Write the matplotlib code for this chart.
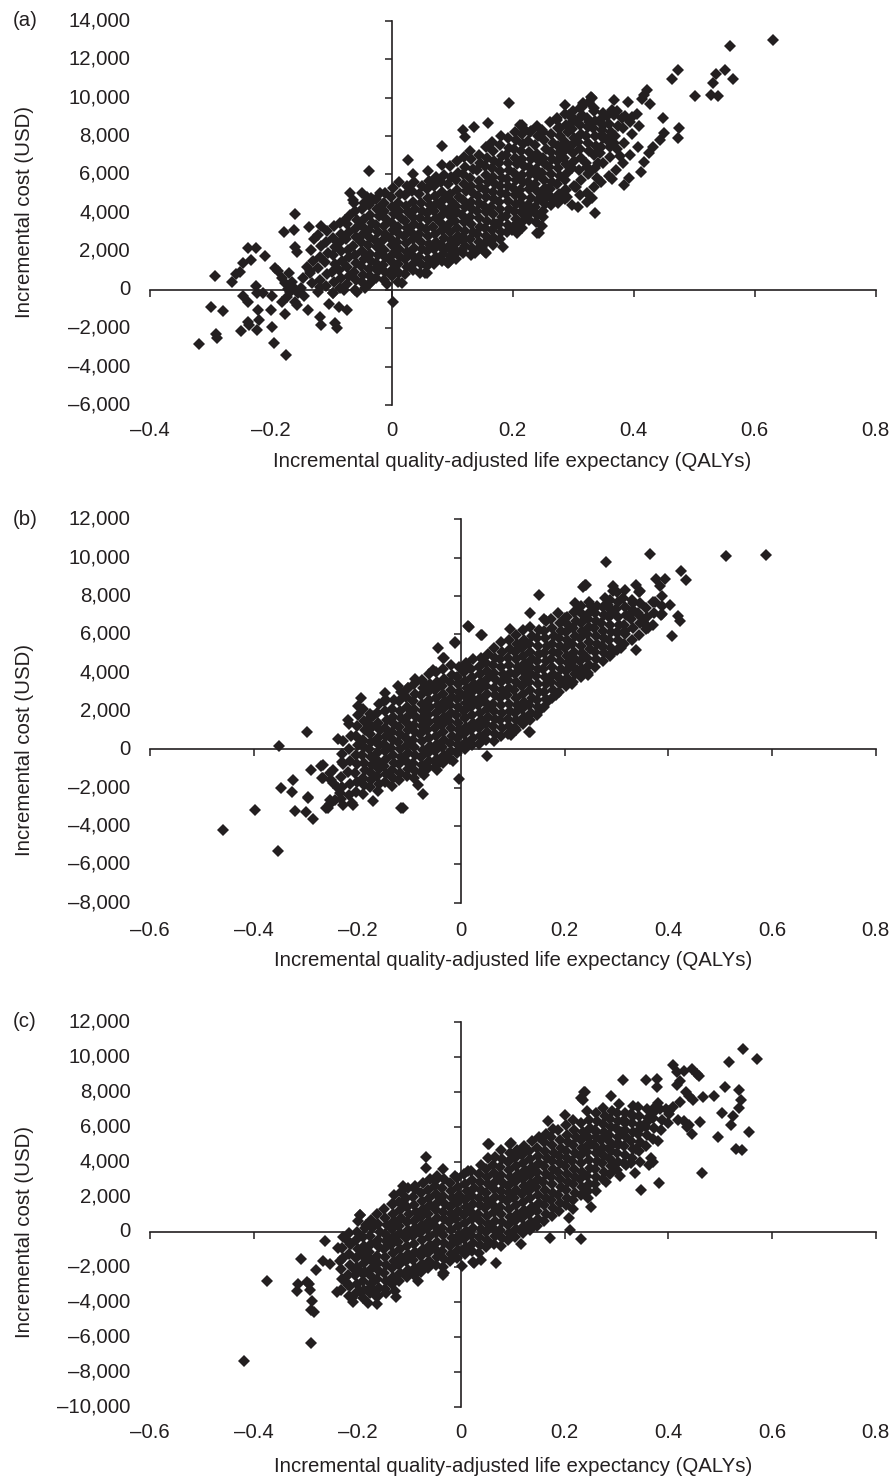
import numpy as np
import matplotlib
matplotlib.use("Agg")
import matplotlib.pyplot as plt

plt.rcParams['font.family'] = ['Liberation Sans', 'DejaVu Sans']

INK = '#231f20'
FS = 14.7
W, H = 894, 1482

XLABEL = 'Incremental quality-adjusted life expectancy (QALYs)'
YLABEL = 'Incremental cost (USD)'

# ---- panel (a): (incremental QALYs, incremental cost USD) ----
scatter_a = [
    (-0.318, -2830), (-0.298, -900), (-0.291, 710), (-0.279, -1110), (-0.290, -2310), (-0.288, -2520),
    (-0.264, 420), (-0.257, 820), (-0.251, 940), (-0.245, 1390), (-0.238, 2160), (-0.224, 2160), (-0.232, 1550), (-0.209, 1770),
    (-0.246, -330), (-0.237, -630), (-0.224, 190), (-0.222, -150), (-0.212, -190), (-0.220, -1060), (-0.219, -1580),
    (-0.238, -1670), (-0.235, -1840), (-0.249, -2140), (-0.222, -2100), (-0.198, -330), (-0.199, -1060), (-0.198, -1960),
    (-0.194, -2760), (-0.174, -3400), (-0.176, -1270), (-0.192, 1110), (-0.187, 950), (-0.181, 590), (-0.169, 850),
    (-0.176, 330), (-0.167, -100), (-0.181, -620), (-0.173, -360), (-0.159, -620), (-0.156, -800), (-0.154, -190),
    (-0.162, 160), (-0.177, 3020), (-0.159, 3930), (-0.161, 3110), (-0.137, 3250), (-0.159, 2240), (-0.156, 1980),
    (-0.144, -330), (-0.138, -1060), (-0.118, -1410), (-0.117, -1840), (-0.093, -1750), (-0.090, -2010), (-0.104, -750),
    (-0.086, -890), (-0.074, -1060), (-0.038, 6180), (-0.068, 5020), (-0.049, 5020), (-0.077, 3630),
    (0.002, -620), (-0.007, 300), (0.017, 330), (0.083, 7500), (0.056, 890), (0.092, 1460),
    (-0.165, 400), (-0.171, 20), (-0.150, 80), (-0.146, 600), (-0.140, 1200),
    (-0.134, 850), (-0.118, 160), (-0.096, -190), (-0.079, -20), (-0.057, -100), (-0.043, 70), (-0.035, 330), (-0.024, 1200),
    (-0.063, 4670), (-0.046, 4500), (-0.041, 4850), (-0.030, 4670), (-0.019, 5020), (-0.013, 4500),
    (0.028, 6760), (0.119, 8320), (0.122, 7970), (0.136, 8490), (0.160, 8670), (0.195, 9740), (0.213, 8580),
    (0.287, 9620), (0.317, 9710), (0.330, 10020),
    (0.058, 850), (0.093, 1460), (0.116, 2070), (0.138, 1900), (0.155, 1980), (0.185, 2210), (0.240, 2940),
    (0.249, 3330), (0.250, 3800), (0.337, 3980),
    (0.094, 1410), (0.157, 1930), (0.175, 3420), (0.199, 3110), (0.210, 3490), (0.243, 2970),
    (0.163, 2590), (0.149, 2240), (0.119, 2590), (0.102, 2160), (0.087, 2070),
    (0.221, 3980), (0.226, 4410), (0.213, 4500), (0.207, 2940),
    (0.305, 5370), (0.290, 4850), (0.273, 4710), (0.257, 4850), (0.260, 5280),
    (0.323, 4590), (0.309, 4330), (0.331, 4760), (0.273, 4760), (0.287, 5190), (0.304, 5370),
    (0.323, 6410), (0.326, 6060), (0.340, 5800), (0.345, 7110), (0.342, 6580),
    (0.348, 8060), (0.361, 7970), (0.367, 7630), (0.361, 7450),
    (0.315, 9530), (0.334, 9450), (0.364, 9360),
    (0.181, 8010), (0.215, 8580), (0.218, 8410), (0.229, 8230), (0.249, 8320), (0.273, 8840), (0.293, 9100),
    (0.298, 8750), (0.279, 8410),
    (0.315, 9100), (0.326, 8750), (0.345, 8840), (0.350, 8580), (0.367, 9100), (0.381, 8930), (0.397, 9010),
    (0.368, 9880), (0.391, 9790), (0.331, 10000), (0.316, 9620),
    (0.449, 8930), (0.476, 8410), (0.473, 7920), (0.450, 8150), (0.444, 7800), (0.433, 7450), (0.425, 7110),
    (0.417, 6670), (0.413, 6150), (0.392, 5800), (0.384, 5450), (0.365, 5770), (0.378, 6970),
    (0.422, 10400), (0.418, 10140), (0.414, 9920), (0.428, 9680),
    (0.473, 11450), (0.463, 10980), (0.537, 11240), (0.551, 11410), (0.531, 10780), (0.564, 10960),
    (0.502, 10060), (0.528, 10110), (0.540, 10090), (0.559, 12660), (0.630, 13010),
]

cloud_a = [
    (-0.131, 350), (-0.134, 950), (-0.129, 1480), (-0.133, 2080), (-0.128, 2620),
    (-0.121, -120), (-0.118, 520), (-0.122, 1130), (-0.119, 1690), (-0.117, 2280), (-0.121, 2860), (-0.116, 3310),
    (-0.108, 180), (-0.106, 810), (-0.110, 1420), (-0.105, 1930), (-0.109, 2480), (-0.107, 3080),
    (-0.097, -170), (-0.095, 380), (-0.098, 930), (-0.094, 1320), (-0.096, 1790), (-0.093, 2230), (-0.097, 2710), (-0.095, 3290),
    (-0.085, 90), (-0.083, 620), (-0.086, 1010), (-0.082, 1480), (-0.084, 2020), (-0.087, 2410), (-0.083, 2880), (-0.085, 3480),
    (-0.073, 280), (-0.071, 720), (-0.074, 1190), (-0.070, 1710), (-0.072, 2090), (-0.075, 2620), (-0.071, 3010), (-0.073, 3420), (-0.069, 3880),
    (-0.061, -20), (-0.059, 490), (-0.062, 920), (-0.058, 1380), (-0.060, 1820), (-0.063, 2290), (-0.059, 2720), (-0.061, 3180),
    (-0.057, 3610), (-0.060, 4090), (-0.062, 4520),
    (-0.049, 410), (-0.047, 790), (-0.050, 1220), (-0.046, 1580), (-0.048, 2010), (-0.051, 2480), (-0.047, 2920), (-0.049, 3310),
    (-0.045, 3690), (-0.048, 4210),
    (-0.037, 280), (-0.035, 710), (-0.038, 1090), (-0.034, 1520), (-0.036, 1880), (-0.039, 2310), (-0.035, 2690), (-0.037, 3120),
    (-0.033, 3480), (-0.036, 3910), (-0.038, 4420), (-0.034, 4790),
    (-0.025, 620), (-0.023, 980), (-0.026, 1410), (-0.022, 1790), (-0.024, 2220), (-0.027, 2580), (-0.023, 3020), (-0.025, 3390),
    (-0.021, 3820), (-0.024, 4180), (-0.026, 4710),
    (-0.013, 480), (-0.011, 920), (-0.014, 1290), (-0.010, 1720), (-0.012, 2080), (-0.015, 2520), (-0.011, 2890), (-0.013, 3320),
    (-0.009, 3680), (-0.012, 4120), (-0.014, 4480), (-0.010, 5020),
    (0.001, 710), (0.003, 1080), (-0.001, 1520), (0.002, 1880), (0.000, 2310), (-0.002, 2690), (0.002, 3120), (0.000, 3480),
    (0.004, 3920), (0.001, 4280), (-0.001, 4820), (0.003, 5290),
    (0.011, 420), (0.013, 880), (0.010, 1320), (0.014, 1690), (0.012, 2120), (0.009, 2480), (0.013, 2920), (0.011, 3280),
    (0.015, 3720), (0.012, 4080), (0.010, 4520), (0.014, 4980), (0.012, 5620),
    (0.023, 820), (0.025, 1180), (0.022, 1620), (0.026, 1980), (0.024, 2420), (0.021, 2780), (0.025, 3220), (0.023, 3580),
    (0.027, 4020), (0.024, 4380), (0.022, 4920), (0.026, 5380),
    (0.035, 1020), (0.037, 1380), (0.034, 1820), (0.038, 2180), (0.036, 2620), (0.033, 2980), (0.037, 3420), (0.035, 3780),
    (0.039, 4220), (0.036, 4580), (0.034, 5120), (0.038, 5580), (0.036, 6020),
    (0.047, 880), (0.049, 1320), (0.046, 1680), (0.050, 2120), (0.048, 2480), (0.045, 2920), (0.049, 3280), (0.047, 3720),
    (0.051, 4080), (0.048, 4520), (0.046, 4980), (0.050, 5420),
    (0.059, 1220), (0.061, 1580), (0.058, 2020), (0.062, 2380), (0.060, 2820), (0.057, 3180), (0.061, 3620), (0.059, 3980),
    (0.063, 4420), (0.060, 4780), (0.058, 5220), (0.062, 5680), (0.060, 6180),
    (0.071, 1320), (0.073, 1680), (0.070, 2120), (0.074, 2480), (0.072, 2920), (0.069, 3280), (0.073, 3720), (0.071, 4080),
    (0.075, 4520), (0.072, 4880), (0.070, 5420), (0.074, 5880),
    (0.083, 1520), (0.085, 1880), (0.082, 2320), (0.086, 2680), (0.084, 3120), (0.081, 3480), (0.085, 3920), (0.083, 4280),
    (0.087, 4720), (0.084, 5080), (0.082, 5620), (0.086, 5980), (0.084, 6480),
    (0.095, 1420), (0.097, 1780), (0.094, 2220), (0.098, 2580), (0.096, 3020), (0.093, 3380), (0.097, 3820), (0.095, 4180),
    (0.099, 4620), (0.096, 4980), (0.094, 5520), (0.098, 5880), (0.096, 6420),
    (0.107, 1620), (0.109, 1980), (0.106, 2420), (0.110, 2780), (0.108, 3220), (0.105, 3580), (0.109, 4020), (0.107, 4380),
    (0.111, 4820), (0.108, 5180), (0.106, 5720), (0.110, 6080), (0.108, 6720),
    (0.119, 1920), (0.121, 2280), (0.118, 2720), (0.122, 3080), (0.120, 3520), (0.117, 3880), (0.121, 4320), (0.119, 4680),
    (0.123, 5120), (0.120, 5480), (0.118, 6020), (0.122, 6380), (0.120, 6920),
    (0.131, 1820), (0.133, 2180), (0.130, 2620), (0.134, 2980), (0.132, 3420), (0.129, 3780), (0.133, 4220), (0.131, 4580),
    (0.135, 5020), (0.132, 5380), (0.130, 5820), (0.134, 6280), (0.132, 6820), (0.130, 7220),
    (0.143, 2120), (0.145, 2480), (0.142, 2920), (0.146, 3280), (0.144, 3720), (0.141, 4080), (0.145, 4520), (0.143, 4880),
    (0.147, 5320), (0.144, 5680), (0.142, 6220), (0.146, 6580), (0.144, 7020),
    (0.155, 2420), (0.157, 2780), (0.154, 3220), (0.158, 3580), (0.156, 4020), (0.153, 4380), (0.157, 4820), (0.155, 5180),
    (0.159, 5620), (0.156, 5980), (0.154, 6420), (0.158, 6880), (0.156, 7420),
    (0.167, 2320), (0.169, 2680), (0.166, 3120), (0.170, 3480), (0.168, 3920), (0.165, 4280), (0.169, 4720), (0.167, 5080),
    (0.171, 5520), (0.168, 5880), (0.166, 6320), (0.170, 6680), (0.168, 7220), (0.166, 7680),
    (0.179, 2620), (0.181, 2980), (0.178, 3420), (0.182, 3780), (0.180, 4220), (0.177, 4580), (0.181, 5020), (0.179, 5380),
    (0.183, 5820), (0.180, 6180), (0.178, 6620), (0.182, 6980), (0.180, 7520),
    (0.191, 3020), (0.193, 3380), (0.190, 3820), (0.194, 4180), (0.192, 4620), (0.189, 4980), (0.193, 5420), (0.191, 5780),
    (0.195, 6220), (0.192, 6580), (0.190, 7020), (0.194, 7380), (0.192, 7920),
    (0.203, 3320), (0.205, 3680), (0.202, 4120), (0.206, 4480), (0.204, 4920), (0.201, 5280), (0.205, 5720), (0.203, 6080),
    (0.207, 6520), (0.204, 6880), (0.202, 7320), (0.206, 7780), (0.204, 8220),
    (0.215, 3220), (0.217, 3580), (0.214, 4020), (0.218, 4380), (0.216, 4820), (0.213, 5180), (0.217, 5620), (0.215, 5980),
    (0.219, 6420), (0.216, 6780), (0.214, 7220), (0.218, 7580), (0.216, 8120),
    (0.227, 3620), (0.229, 3980), (0.226, 4420), (0.230, 4780), (0.228, 5220), (0.225, 5580), (0.229, 6020), (0.227, 6380),
    (0.231, 6820), (0.228, 7180), (0.226, 7720), (0.230, 8280),
    (0.239, 3520), (0.241, 3880), (0.238, 4320), (0.242, 4680), (0.240, 5120), (0.237, 5480), (0.241, 5920), (0.239, 6280),
    (0.243, 6720), (0.240, 7080), (0.238, 7520), (0.242, 7980), (0.240, 8520),
    (0.251, 4120), (0.253, 4480), (0.250, 4920), (0.254, 5280), (0.252, 5720), (0.249, 6080), (0.253, 6520), (0.251, 6880),
    (0.255, 7320), (0.252, 7780), (0.250, 8220),
    (0.263, 4420), (0.265, 4780), (0.262, 5220), (0.266, 5580), (0.264, 6020), (0.261, 6380), (0.265, 6820), (0.263, 7180),
    (0.267, 7620), (0.264, 8080), (0.262, 8720),
    (0.275, 4520), (0.277, 4980), (0.274, 5480), (0.278, 5920), (0.276, 6320), (0.273, 6680), (0.277, 7120), (0.275, 7480),
    (0.279, 7980), (0.276, 8420), (0.274, 8920),
    (0.287, 4720), (0.289, 5180), (0.286, 5720), (0.290, 6080), (0.288, 6520), (0.285, 6880), (0.289, 7320), (0.287, 7680),
    (0.291, 8220), (0.288, 8580), (0.286, 9120),
    (0.299, 4420), (0.301, 5420), (0.298, 6320), (0.302, 6680), (0.300, 7120), (0.297, 7480), (0.301, 7920), (0.299, 8380),
    (0.303, 8820), (0.300, 9280),
    (0.311, 4920), (0.313, 5720), (0.310, 6220), (0.314, 6880), (0.312, 7320), (0.309, 7680), (0.313, 8120), (0.311, 8580),
    (0.315, 9020), (0.312, 9480),
    (0.323, 5020), (0.325, 6020), (0.322, 6620), (0.326, 7220), (0.324, 7620), (0.321, 8020), (0.325, 8480), (0.323, 8920),
    (0.327, 9780),
    (0.335, 5320), (0.337, 6320), (0.334, 7020), (0.338, 7480), (0.336, 8020), (0.333, 8420), (0.337, 8780), (0.335, 9320),
    (0.347, 5620), (0.349, 6620), (0.346, 7420), (0.350, 7880), (0.348, 8320), (0.345, 8720), (0.349, 9220),
    (0.359, 5920), (0.361, 6920), (0.358, 7720), (0.362, 8220), (0.360, 8620), (0.357, 9020),
    (0.371, 6220), (0.373, 7320), (0.370, 8020), (0.374, 8520), (0.372, 9320),
    (0.383, 6620), (0.385, 7620), (0.382, 8420), (0.386, 9020),
    (0.395, 7020), (0.397, 8120), (0.394, 8720),
    (0.407, 7420), (0.409, 8520), (0.406, 9120),
]

# ---- panel (b) ----
scatter_b = [
    (-0.460, -4230), (-0.398, -3190), (-0.353, -5280), (-0.351, 190), (-0.298, 880),
    (-0.348, -2020), (-0.325, -1620), (-0.326, -2250), (-0.321, -3240), (-0.300, -3290), (-0.286, -3640), (-0.295, -2510),
    (-0.289, -1100), (-0.270, -860), (-0.267, -1500), (-0.252, -1240), (-0.247, -1760), (-0.237, -2020), (-0.234, -2280),
    (-0.244, -2630), (-0.253, -2840), (-0.257, -3070),
    (-0.228, -2890), (-0.211, -2800), (-0.237, 550), (-0.218, 1550), (-0.199, 2240), (-0.192, 2680), (-0.176, 1860),
    (-0.179, 1370), (-0.170, 1720),
    (-0.147, 2940), (-0.144, 2550), (-0.122, 3320), (-0.112, -3070), (-0.074, -2320), (-0.083, -1850), (-0.071, -1330),
    (-0.044, 5290), (-0.035, 4770), (-0.054, 4150), (-0.089, 3670), (-0.074, 3490), (-0.170, -2670),
    (-0.267, -800), (-0.269, -1500), (-0.247, -1070), (-0.250, -1590), (-0.229, -680), (-0.295, -2540), (-0.253, -2630),
    (-0.208, -2890), (-0.260, -3060),
    (-0.115, -3060), (-0.047, -1070), (-0.051, -630), (-0.015, -630), (-0.003, -1530), (-0.102, 3200), (-0.012, 5550),
    (0.014, 6420), (0.041, 5980), (0.051, -370), (0.150, 8030), (0.240, 8590), (0.134, 7110), (0.161, 6800),
    (0.094, 6280), (0.133, 930), (0.097, 760),
    (0.364, 10190), (0.511, 10110), (0.588, 10120), (0.279, 9780), (0.425, 9320), (0.435, 8820),
    (0.377, 8890), (0.393, 8890), (0.383, 8500), (0.338, 8590), (0.345, 8240), (0.316, 8290), (0.294, 8500), (0.293, 8240),
    (0.242, 8560), (0.235, 8470),
    (0.388, 7980), (0.374, 7670), (0.404, 7550), (0.387, 7080), (0.419, 6940), (0.422, 6680), (0.407, 5890),
    (0.338, 5200), (0.309, 5290), (0.293, 5080), (0.274, 5340),
    (0.358, 6420), (0.361, 6330), (0.351, 6680), (0.345, 6940), (0.329, 7110), (0.332, 7640),
    (0.107, 1020), (0.131, 880), (0.118, 1460), (0.152, 2070), (0.168, 2500), (0.184, 2850),
    (0.203, 3600), (0.215, 3410), (0.245, 3890), (0.223, 4160),
    (0.015, 6360), (0.039, 5980), (-0.011, 5600), (-0.033, 4770), (0.200, 6850), (0.219, 7640), (0.223, 7290),
    (0.251, 7460), (0.284, 7550), (0.290, 7110), (0.316, 6150), (0.300, 6070),
]

cloud_b = [
    (-0.231, -2610), (-0.229, -1990), (-0.232, -1420), (-0.228, -780), (-0.230, -220), (-0.227, 410),
    (-0.217, -2380), (-0.215, -1820), (-0.218, -1190), (-0.214, -620), (-0.216, 20), (-0.213, 690), (-0.217, 1310),
    (-0.203, -2210), (-0.201, -1690), (-0.204, -1220), (-0.200, -780), (-0.202, -320), (-0.199, 210), (-0.203, 690),
    (-0.201, 1220), (-0.198, 1790),
    (-0.189, -2310), (-0.187, -1880), (-0.190, -1520), (-0.186, -1090), (-0.188, -710), (-0.191, -290), (-0.187, 110),
    (-0.189, 490), (-0.185, 1010), (-0.188, 1490), (-0.190, 2090),
    (-0.175, -1990), (-0.173, -1610), (-0.176, -1190), (-0.172, -810), (-0.174, -390), (-0.177, 10), (-0.173, 390),
    (-0.175, 810), (-0.171, 1190), (-0.174, 1710),
    (-0.161, -2190), (-0.159, -1810), (-0.162, -1390), (-0.158, -1010), (-0.160, -590), (-0.163, -210), (-0.159, 210),
    (-0.161, 590), (-0.157, 1010), (-0.160, 1390), (-0.162, 1910), (-0.158, 2390),
    (-0.147, -1690), (-0.145, -1310), (-0.148, -890), (-0.144, -510), (-0.146, -90), (-0.149, 290), (-0.145, 710),
    (-0.147, 1090), (-0.143, 1510), (-0.146, 1990), (-0.148, 2510),
    (-0.133, -1890), (-0.131, -1510), (-0.134, -1090), (-0.130, -710), (-0.132, -290), (-0.135, 90), (-0.131, 510),
    (-0.133, 890), (-0.129, 1310), (-0.132, 1690), (-0.134, 2110), (-0.130, 2590),
    (-0.119, -1590), (-0.117, -1210), (-0.120, -790), (-0.116, -410), (-0.118, 10), (-0.121, 390), (-0.117, 810),
    (-0.119, 1190), (-0.115, 1610), (-0.118, 1990), (-0.120, 2510), (-0.116, 2990),
    (-0.105, -1390), (-0.103, -1010), (-0.106, -590), (-0.102, -210), (-0.104, 210), (-0.107, 590), (-0.103, 1010),
    (-0.105, 1390), (-0.101, 1810), (-0.104, 2190), (-0.106, 2710), (-0.102, 3190),
    (-0.091, -1490), (-0.089, -1110), (-0.092, -690), (-0.088, -310), (-0.090, 110), (-0.093, 490), (-0.089, 910),
    (-0.091, 1290), (-0.087, 1710), (-0.090, 2090), (-0.092, 2510), (-0.088, 2890), (-0.090, 3410),
    (-0.077, -1190), (-0.075, -810), (-0.078, -390), (-0.074, -10), (-0.076, 410), (-0.079, 790), (-0.075, 1210),
    (-0.077, 1590), (-0.073, 2010), (-0.076, 2390), (-0.078, 2810), (-0.074, 3190), (-0.076, 3610),
    (-0.063, -990), (-0.061, -610), (-0.064, -190), (-0.060, 190), (-0.062, 610), (-0.065, 990), (-0.061, 1410),
    (-0.063, 1790), (-0.059, 2210), (-0.062, 2590), (-0.064, 3010), (-0.060, 3390), (-0.062, 3910),
    (-0.049, -890), (-0.047, -510), (-0.050, -90), (-0.046, 290), (-0.048, 710), (-0.051, 1090), (-0.047, 1510),
    (-0.049, 1890), (-0.045, 2310), (-0.048, 2690), (-0.050, 3110), (-0.046, 3490), (-0.048, 4010),
    (-0.035, -690), (-0.033, -310), (-0.036, 110), (-0.032, 490), (-0.034, 910), (-0.037, 1290), (-0.033, 1710),
    (-0.035, 2090), (-0.031, 2510), (-0.034, 2890), (-0.036, 3310), (-0.032, 3690), (-0.034, 4210),
    (-0.021, -490), (-0.019, -90), (-0.022, 310), (-0.018, 690), (-0.020, 1110), (-0.023, 1490), (-0.019, 1910),
    (-0.021, 2290), (-0.017, 2710), (-0.020, 3090), (-0.022, 3510), (-0.018, 3890), (-0.020, 4410),
    (-0.007, -190), (-0.005, 210), (-0.008, 590), (-0.004, 1010), (-0.006, 1390), (-0.009, 1810), (-0.005, 2190),
    (-0.007, 2610), (-0.003, 2990), (-0.006, 3410), (-0.008, 3790), (-0.004, 4310),
    (0.007, 10), (0.009, 390), (0.006, 810), (0.010, 1190), (0.008, 1610), (0.005, 1990), (0.009, 2410), (0.007, 2790),
    (0.011, 3210), (0.008, 3590), (0.006, 4010), (0.010, 4490),
    (0.021, 210), (0.023, 590), (0.020, 1010), (0.024, 1390), (0.022, 1810), (0.019, 2190), (0.023, 2610), (0.021, 2990),
    (0.025, 3410), (0.022, 3790), (0.020, 4210), (0.024, 4690),
    (0.035, 290), (0.037, 710), (0.034, 1090), (0.038, 1510), (0.036, 1890), (0.033, 2310), (0.037, 2690), (0.035, 3110),
    (0.039, 3490), (0.036, 3910), (0.034, 4290), (0.038, 4790),
    (0.049, 510), (0.051, 890), (0.048, 1310), (0.052, 1690), (0.050, 2110), (0.047, 2490), (0.051, 2910), (0.049, 3290),
    (0.053, 3710), (0.050, 4090), (0.048, 4510), (0.052, 4990),
    (0.063, 410), (0.065, 790), (0.062, 1210), (0.066, 1590), (0.064, 2010), (0.061, 2390), (0.065, 2810), (0.063, 3190),
    (0.067, 3610), (0.064, 3990), (0.062, 4410), (0.066, 4790), (0.064, 5310),
    (0.077, 710), (0.079, 1090), (0.076, 1510), (0.080, 1890), (0.078, 2310), (0.075, 2690), (0.079, 3110), (0.077, 3490),
    (0.081, 3910), (0.078, 4290), (0.076, 4710), (0.080, 5090), (0.078, 5610),
    (0.091, 790), (0.093, 1210), (0.090, 1590), (0.094, 2010), (0.092, 2390), (0.089, 2810), (0.093, 3190), (0.091, 3610),
    (0.095, 3990), (0.092, 4410), (0.090, 4790), (0.094, 5210), (0.092, 5690),
    (0.105, 1090), (0.107, 1510), (0.104, 1890), (0.108, 2310), (0.106, 2690), (0.103, 3110), (0.107, 3490), (0.105, 3910),
    (0.109, 4290), (0.106, 4710), (0.104, 5090), (0.108, 5510), (0.106, 5990),
    (0.119, 1310), (0.121, 1690), (0.118, 2110), (0.122, 2490), (0.120, 2910), (0.117, 3290), (0.121, 3710), (0.119, 4090),
    (0.123, 4510), (0.120, 4890), (0.118, 5310), (0.122, 5690), (0.120, 6210),
    (0.133, 1510), (0.135, 1890), (0.132, 2310), (0.136, 2690), (0.134, 3110), (0.131, 3490), (0.135, 3910), (0.133, 4290),
    (0.137, 4710), (0.134, 5090), (0.132, 5510), (0.136, 5890), (0.134, 6390),
    (0.147, 1790), (0.149, 2210), (0.146, 2590), (0.150, 3010), (0.148, 3390), (0.145, 3810), (0.149, 4190), (0.147, 4610),
    (0.151, 4990), (0.148, 5410), (0.146, 5790), (0.150, 6210),
    (0.161, 2190), (0.163, 2610), (0.160, 2990), (0.164, 3410), (0.162, 3790), (0.159, 4210), (0.163, 4590), (0.161, 5010),
    (0.165, 5390), (0.162, 5810), (0.160, 6190), (0.164, 6690),
    (0.175, 2690), (0.177, 3110), (0.174, 3490), (0.178, 3910), (0.176, 4290), (0.173, 4710), (0.177, 5090), (0.175, 5510),
    (0.179, 5890), (0.176, 6310), (0.174, 6790),
    (0.189, 2990), (0.191, 3410), (0.188, 3790), (0.192, 4210), (0.190, 4590), (0.187, 5010), (0.191, 5390), (0.189, 5810),
    (0.193, 6190), (0.190, 6610), (0.188, 7090),
    (0.203, 3290), (0.205, 3710), (0.202, 4090), (0.206, 4510), (0.204, 4890), (0.201, 5310), (0.205, 5690), (0.203, 6110),
    (0.207, 6490), (0.204, 6910),
    (0.217, 3490), (0.219, 3910), (0.216, 4290), (0.220, 4710), (0.218, 5090), (0.215, 5510), (0.219, 5890), (0.217, 6310),
    (0.221, 6690), (0.218, 7190),
    (0.231, 3790), (0.233, 4210), (0.230, 4590), (0.234, 5010), (0.232, 5390), (0.229, 5810), (0.233, 6190), (0.231, 6610),
    (0.235, 6990), (0.232, 7490),
    (0.245, 3990), (0.247, 4410), (0.244, 4790), (0.248, 5210), (0.246, 5590), (0.243, 6010), (0.247, 6390), (0.245, 6810),
    (0.249, 7190), (0.246, 7690),
    (0.259, 4290), (0.261, 4710), (0.258, 5090), (0.262, 5510), (0.260, 5890), (0.257, 6310), (0.261, 6690), (0.259, 7110),
    (0.263, 7490),
    (0.273, 4590), (0.275, 5010), (0.272, 5390), (0.276, 5810), (0.274, 6190), (0.271, 6610), (0.275, 6990), (0.273, 7410),
    (0.277, 7890),
    (0.287, 4890), (0.289, 5310), (0.286, 5690), (0.290, 6110), (0.288, 6490), (0.285, 6910), (0.289, 7290), (0.287, 7790),
    (0.301, 5190), (0.303, 5710), (0.300, 6110), (0.304, 6510), (0.302, 6890), (0.299, 7310), (0.303, 7690), (0.301, 8190),
    (0.315, 5490), (0.317, 6010), (0.314, 6510), (0.318, 6990), (0.316, 7410), (0.313, 7890),
    (0.329, 5690), (0.331, 6310), (0.328, 6810), (0.332, 7290), (0.330, 7810),
    (0.343, 5990), (0.345, 6610), (0.342, 7110), (0.346, 7610), (0.344, 8190),
    (0.357, 6290), (0.359, 6910), (0.356, 7390),
    (0.371, 6490), (0.373, 7110), (0.370, 7690),
    (0.385, 6990), (0.387, 7490),
]

# ---- panel (c) ----
scatter_c = [
    (-0.419, -7390), (-0.375, -2800), (-0.289, -6350), (-0.289, -4470), (-0.284, -4580), (-0.287, -3950), (-0.292, -3320),
    (-0.293, -3010), (-0.298, -2900), (-0.314, -3010), (-0.317, -3360), (-0.308, -1550),
    (-0.280, -2170), (-0.263, -510), (-0.267, -1650), (-0.253, -1860), (-0.240, -3430), (-0.234, -1650), (-0.237, -920),
    (-0.221, -400), (-0.215, -710), (-0.224, -2800), (-0.218, -3070), (-0.208, -3990), (-0.211, -3780),
    (-0.195, -3360), (-0.205, -2170), (-0.195, 960), (-0.184, 390), (-0.182, -1550), (-0.192, -2280), (-0.176, -3220),
    (-0.166, -3360), (-0.179, -4050), (-0.163, -4110), (-0.165, -3640),
    (-0.125, -3740), (-0.144, -3490), (-0.128, -3360), (-0.083, -2800), (-0.035, -2490),
    (-0.068, 4250), (-0.068, 3630), (-0.035, 3610), (-0.051, 2900), (-0.112, 2620), (-0.089, 2420), (-0.131, 1580),
    (-0.112, 1690),
    (-0.194, 950), (0.052, 5010), (0.097, 5050), (0.168, 6330), (0.200, 6670), (0.239, 7960), (0.232, 7620),
    (0.172, -380), (0.232, -430), (0.210, 100), (0.068, -1810), (0.026, -1810), (0.039, -1620), (-0.035, -2380),
    (0.544, 10420), (0.571, 9870), (0.517, 9670), (0.510, 8270), (0.536, 8120), (0.541, 7540), (0.536, 7060),
    (0.525, 6600), (0.520, 6120), (0.555, 5670), (0.530, 4730), (0.543, 4670), (0.496, 5420), (0.504, 6810),
    (0.489, 7750), (0.465, 3370),
    (0.409, 9520), (0.417, 9100), (0.431, 9210), (0.446, 9270), (0.455, 9040), (0.460, 8890), (0.423, 8620),
    (0.417, 8410), (0.435, 7960), (0.440, 7750), (0.422, 7440), (0.447, 7540), (0.467, 7710),
    (0.462, 6250), (0.436, 5980), (0.446, 5560), (0.440, 6080), (0.312, 8690), (0.356, 8690), (0.378, 8750),
    (0.378, 8270), (0.289, 7750), (0.237, 7960), (0.235, 7540),
    (0.380, 5210), (0.382, 2790), (0.347, 2370), (0.367, 4210), (0.370, 4000), (0.335, 3370), (0.328, 3900),
    (0.251, 1400), (0.208, 770), (0.116, -690), (0.024, -1730), (0.001, -1940), (-0.033, -2350),
    (0.094, 5040), (0.054, 5040), (0.014, 3480), (-0.012, 3170),
    (0.380, 7330), (0.396, 7020), (0.402, 6710), (0.419, 6390), (0.431, 6330), (0.409, 7120), (0.370, 6810),
    (0.358, 6290), (0.345, 5870), (0.332, 6600), (0.319, 6290), (0.309, 5670), (0.300, 5040), (0.287, 4830),
    (0.267, 4620), (0.277, 5460), (0.261, 5670), (0.251, 5040),
    (0.337, 4730), (0.345, 4000), (0.363, 3790), (0.319, 3790), (0.293, 4000), (0.306, 3170), (0.280, 2850),
    (0.261, 2330), (0.245, 1920), (0.216, 1290),
]

cloud_c = [
    (-0.231, -3310), (-0.229, -2690), (-0.232, -2110), (-0.228, -1490), (-0.230, -910), (-0.227, -290),
    (-0.217, -3690), (-0.215, -3110), (-0.218, -2490), (-0.214, -1910), (-0.216, -1290), (-0.213, -710), (-0.217, -90),
    (-0.203, -3490), (-0.201, -3010), (-0.204, -2490), (-0.200, -2010), (-0.202, -1490), (-0.199, -1010), (-0.203, -490),
    (-0.201, 10), (-0.198, 590),
    (-0.189, -3790), (-0.187, -3310), (-0.190, -2790), (-0.186, -2310), (-0.188, -1790), (-0.191, -1310), (-0.187, -790),
    (-0.189, -310), (-0.185, 210),
    (-0.175, -3490), (-0.173, -3010), (-0.176, -2490), (-0.172, -2060), (-0.174, -1590), (-0.177, -1160), (-0.173, -690),
    (-0.175, -260), (-0.171, 210), (-0.174, 690),
    (-0.161, -3690), (-0.159, -3210), (-0.162, -2690), (-0.158, -2260), (-0.160, -1790), (-0.163, -1360), (-0.159, -890),
    (-0.161, -460), (-0.157, 10), (-0.160, 440), (-0.162, 1010),
    (-0.147, -3290), (-0.145, -2810), (-0.148, -2340), (-0.144, -1910), (-0.146, -1440), (-0.149, -1010), (-0.145, -540),
    (-0.147, -110), (-0.143, 360), (-0.146, 790), (-0.148, 1310),
    (-0.133, -2990), (-0.131, -2560), (-0.134, -2090), (-0.130, -1660), (-0.132, -1190), (-0.135, -760), (-0.131, -290),
    (-0.133, 140), (-0.129, 610), (-0.132, 1040), (-0.134, 1610), (-0.130, 2090),
    (-0.119, -2790), (-0.117, -2360), (-0.120, -1890), (-0.116, -1460), (-0.118, -990), (-0.121, -560), (-0.117, -90),
    (-0.119, 340), (-0.115, 810), (-0.118, 1240), (-0.120, 1710), (-0.116, 2290),
    (-0.105, -2590), (-0.103, -2160), (-0.106, -1690), (-0.102, -1260), (-0.104, -790), (-0.107, -360), (-0.103, 110),
    (-0.105, 540), (-0.101, 1010), (-0.104, 1440), (-0.106, 1910), (-0.102, 2490),
    (-0.091, -2490), (-0.089, -2060), (-0.092, -1590), (-0.088, -1160), (-0.090, -690), (-0.093, -260), (-0.089, 210),
    (-0.091, 640), (-0.087, 1110), (-0.090, 1540), (-0.092, 2010), (-0.088, 2590),
    (-0.077, -2290), (-0.075, -1860), (-0.078, -1390), (-0.074, -960), (-0.076, -490), (-0.079, -60), (-0.075, 410),
    (-0.077, 840), (-0.073, 1310), (-0.076, 1740), (-0.078, 2210), (-0.074, 2790),
    (-0.063, -2090), (-0.061, -1660), (-0.064, -1190), (-0.060, -760), (-0.062, -290), (-0.065, 140), (-0.061, 610),
    (-0.063, 1040), (-0.059, 1510), (-0.062, 1940), (-0.064, 2410), (-0.060, 2990),
    (-0.049, -1890), (-0.047, -1460), (-0.050, -990), (-0.046, -560), (-0.048, -90), (-0.051, 340), (-0.047, 810),
    (-0.049, 1240), (-0.045, 1710), (-0.048, 2140), (-0.050, 2610), (-0.046, 3190),
    (-0.035, -1990), (-0.033, -1560), (-0.036, -1090), (-0.032, -660), (-0.034, -190), (-0.037, 240), (-0.033, 710),
    (-0.035, 1140), (-0.031, 1610), (-0.034, 2040), (-0.036, 2510), (-0.032, 2990),
    (-0.021, -1690), (-0.019, -1260), (-0.022, -790), (-0.018, -360), (-0.020, 110), (-0.023, 540), (-0.019, 1010),
    (-0.021, 1440), (-0.017, 1910), (-0.020, 2340), (-0.022, 2810),
    (-0.007, -1490), (-0.005, -1060), (-0.008, -590), (-0.004, -160), (-0.006, 310), (-0.009, 740), (-0.005, 1210),
    (-0.007, 1640), (-0.003, 2110), (-0.006, 2540), (-0.008, 3090),
    (0.007, -1290), (0.009, -860), (0.006, -390), (0.010, 40), (0.008, 510), (0.005, 940), (0.009, 1410), (0.007, 1840),
    (0.011, 2310), (0.008, 2740), (0.006, 3290),
    (0.021, -1090), (0.023, -660), (0.020, -190), (0.024, 240), (0.022, 710), (0.019, 1140), (0.023, 1610), (0.021, 2040),
    (0.025, 2510), (0.022, 2940), (0.020, 3490),
    (0.035, -1190), (0.037, -760), (0.034, -290), (0.038, 140), (0.036, 610), (0.033, 1040), (0.037, 1510), (0.035, 1940),
    (0.039, 2410), (0.036, 2840), (0.034, 3290), (0.038, 3790),
    (0.049, -890), (0.051, -460), (0.048, 10), (0.052, 440), (0.050, 910), (0.047, 1340), (0.051, 1810), (0.049, 2240),
    (0.053, 2710), (0.050, 3140), (0.048, 3610), (0.052, 4190),
    (0.063, -690), (0.065, -260), (0.062, 210), (0.066, 640), (0.064, 1110), (0.061, 1540), (0.065, 2010), (0.063, 2440),
    (0.067, 2910), (0.064, 3340), (0.062, 3810), (0.066, 4290),
    (0.077, -790), (0.079, -360), (0.076, 110), (0.080, 540), (0.078, 1010), (0.075, 1440), (0.079, 1910), (0.077, 2340),
    (0.081, 2810), (0.078, 3240), (0.076, 3710), (0.080, 4140), (0.078, 4690),
    (0.091, -490), (0.093, -60), (0.090, 410), (0.094, 840), (0.092, 1310), (0.089, 1740), (0.093, 2210), (0.091, 2640),
    (0.095, 3110), (0.092, 3540), (0.090, 4010), (0.094, 4490),
    (0.105, -290), (0.107, 140), (0.104, 610), (0.108, 1040), (0.106, 1510), (0.103, 1940), (0.107, 2410), (0.105, 2840),
    (0.109, 3310), (0.106, 3740), (0.104, 4210), (0.108, 4690),
    (0.119, -90), (0.121, 340), (0.118, 810), (0.122, 1240), (0.120, 1710), (0.117, 2140), (0.121, 2610), (0.119, 3040),
    (0.123, 3510), (0.120, 3940), (0.118, 4410), (0.122, 4890),
    (0.133, 110), (0.135, 540), (0.132, 1010), (0.136, 1440), (0.134, 1910), (0.131, 2340), (0.135, 2810), (0.133, 3240),
    (0.137, 3710), (0.134, 4140), (0.132, 4610), (0.136, 5190),
    (0.147, 310), (0.149, 740), (0.146, 1210), (0.150, 1640), (0.148, 2110), (0.145, 2540), (0.149, 3010), (0.147, 3440),
    (0.151, 3910), (0.148, 4340), (0.146, 4810), (0.150, 5390),
    (0.161, 610), (0.163, 1040), (0.160, 1510), (0.164, 1940), (0.162, 2410), (0.159, 2840), (0.163, 3310), (0.161, 3740),
    (0.165, 4210), (0.162, 4640), (0.160, 5110), (0.164, 5590),
    (0.175, 910), (0.177, 1340), (0.174, 1810), (0.178, 2240), (0.176, 2710), (0.173, 3140), (0.177, 3610), (0.175, 4040),
    (0.179, 4510), (0.176, 4940), (0.174, 5410), (0.178, 5890),
    (0.189, 1210), (0.191, 1640), (0.188, 2110), (0.192, 2540), (0.190, 3010), (0.187, 3440), (0.191, 3910), (0.189, 4340),
    (0.193, 4810), (0.190, 5240), (0.188, 5790),
    (0.203, 1510), (0.205, 1940), (0.202, 2410), (0.206, 2840), (0.204, 3310), (0.201, 3740), (0.205, 4210), (0.203, 4640),
    (0.207, 5110), (0.204, 5540), (0.202, 6090),
    (0.217, 1810), (0.219, 2240), (0.216, 2710), (0.220, 3140), (0.218, 3610), (0.215, 4040), (0.219, 4510), (0.217, 4940),
    (0.221, 5410), (0.218, 5840), (0.216, 6390),
    (0.231, 2110), (0.233, 2540), (0.230, 3010), (0.234, 3440), (0.232, 3910), (0.229, 4340), (0.233, 4810), (0.231, 5240),
    (0.235, 5710), (0.232, 6190),
    (0.245, 2310), (0.247, 2740), (0.244, 3210), (0.248, 3640), (0.246, 4110), (0.243, 4540), (0.247, 5010), (0.245, 5440),
    (0.249, 5910), (0.246, 6390), (0.244, 6890),
    (0.259, 2710), (0.261, 3140), (0.258, 3610), (0.262, 4040), (0.260, 4510), (0.257, 4940), (0.261, 5410), (0.259, 5840),
    (0.263, 6310), (0.260, 6790),
    (0.273, 3010), (0.275, 3440), (0.272, 3910), (0.276, 4340), (0.274, 4810), (0.271, 5240), (0.275, 5710), (0.273, 6140),
    (0.277, 6610), (0.274, 7090),
    (0.287, 3310), (0.289, 3740), (0.286, 4210), (0.290, 4640), (0.288, 5110), (0.285, 5540), (0.289, 6010), (0.287, 6440),
    (0.291, 6910),
    (0.301, 3510), (0.303, 4010), (0.300, 4510), (0.304, 5010), (0.302, 5440), (0.299, 5910), (0.303, 6340), (0.301, 6810),
    (0.305, 7310),
    (0.315, 3910), (0.317, 4410), (0.314, 4910), (0.318, 5410), (0.316, 5840), (0.313, 6310), (0.317, 6810),
    (0.329, 4210), (0.331, 4710), (0.328, 5210), (0.332, 5710), (0.330, 6210), (0.327, 6710), (0.331, 7210),
    (0.343, 4610), (0.345, 5110), (0.342, 5610), (0.346, 6110), (0.344, 6610), (0.341, 7110),
    (0.357, 4910), (0.359, 5510), (0.356, 6010), (0.360, 6510), (0.358, 7010),
    (0.371, 5310), (0.373, 5910), (0.370, 6510), (0.374, 7110),
    (0.385, 5810), (0.387, 6410), (0.384, 7010),
    (0.399, 6210), (0.401, 6910),
]

# figure layout (pixel boxes of the plot areas: left, top, right, bottom)
panels = [
    dict(tag='(a)', pts=cloud_a + scatter_a, box=(149.5, 20.7, 875.5, 405.0),
         xticks=[-0.4, -0.2, 0, 0.2, 0.4, 0.6, 0.8], yticks=list(range(-6000, 14001, 2000)),
         ylab_y=212, xtick_y=430, xlab_y=462),
    dict(tag='(b)', pts=cloud_b + scatter_b, box=(150.0, 519.3, 875.7, 902.7),
         xticks=[-0.6, -0.4, -0.2, 0, 0.2, 0.4, 0.6, 0.8], yticks=list(range(-8000, 12001, 2000)),
         ylab_y=750, xtick_y=931, xlab_y=960),
    dict(tag='(c)', pts=cloud_c + scatter_c, box=(150.0, 1021.7, 875.7, 1406.7),
         xticks=[-0.6, -0.4, -0.2, 0, 0.2, 0.4, 0.6, 0.8], yticks=list(range(-10000, 12001, 2000)),
         ylab_y=1232, xtick_y=1432, xlab_y=1466),
]


def fmt_cost(v):
    if v == 0:
        return '0'
    s = f'{abs(v):,}'
    return '\u2013' + s if v < 0 else s


def fmt_qaly(v):
    if abs(v) < 1e-9:
        return '0'
    s = f'{abs(v):.1f}'
    return '\u2013' + s if v < 0 else s


fig = plt.figure(figsize=(W / 100, H / 100), dpi=100)

for p in panels:
    l, t, r, b = p['box']
    ax = fig.add_axes([l / W, 1 - b / H, (r - l) / W, (b - t) / H])
    xt, yt = p['xticks'], p['yticks']
    ax.set_xlim(xt[0], xt[-1])
    ax.set_ylim(yt[0], yt[-1])

    qaly = [q for q, c in p['pts']]
    cost = [c for q, c in p['pts']]
    ax.plot(qaly, cost, ls='none', marker='D', ms=5.7, mew=0, color=INK, zorder=3, clip_on=False)

    # excel-like crossing axes at the origin
    for side in ['top', 'right']:
        ax.spines[side].set_visible(False)
    ax.spines['left'].set_position(('data', 0))
    ax.spines['bottom'].set_position(('data', 0))
    for side in ['left', 'bottom']:
        ax.spines[side].set_linewidth(1.2)
        ax.spines[side].set_color(INK)
    ax.set_xticks(xt)
    ax.set_yticks(yt)
    ax.tick_params(direction='out', length=5, width=1.1, color=INK,
                   labelleft=False, labelbottom=False)
    ax.patch.set_visible(False)

    # tick labels sit at the outer edge of the plot area
    for v in yt:
        ax.text(-19.5 / (r - l), v, fmt_cost(v), transform=ax.get_yaxis_transform(),
                ha='right', va='center', fontsize=FS, color=INK)
    for v in xt:
        ax.text(v, -(p['xtick_y'] - b) / (b - t), fmt_qaly(v), transform=ax.get_xaxis_transform(),
                ha='center', va='center', fontsize=FS, color=INK)

    fig.text(12.7 / W, 1 - t / H, p['tag'], ha='left', va='center', fontsize=FS, color=INK)
    fig.text(24.7 / W, 1 - p['ylab_y'] / H, YLABEL, rotation=90, ha='center', va='center',
             fontsize=FS, color=INK)
    fig.text((l + r) / 2 / W, 1 - p['xlab_y'] / H, XLABEL, ha='center', va='center',
             fontsize=FS, color=INK)

fig.savefig('out.png', dpi=100)
